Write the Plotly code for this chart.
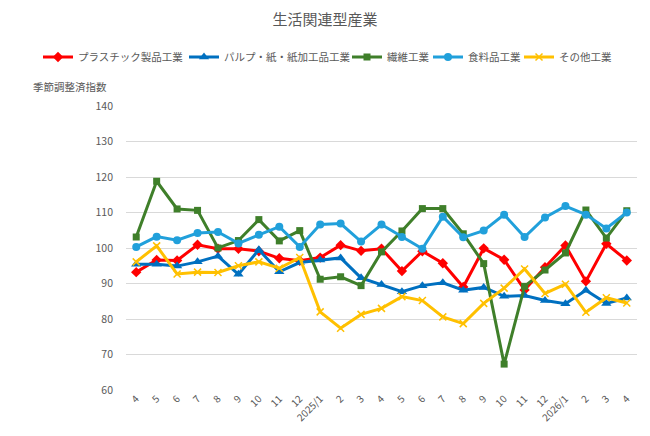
import plotly.graph_objects as go

categories = ["4", "5", "6", "7", "8", "9", "10", "11", "12", "2025/1", "2", "3", "4", "5", "6", "7", "8", "9", "10", "11", "12", "2026/1", "2", "3", "4"]

plastic = [93.2, 96.6, 96.5, 100.9, 99.8, 99.8, 99.1, 97.1, 96.4, 97.3, 100.8, 99.2, 99.8, 93.5, 99.1, 95.7, 89.0, 99.9, 96.7, 88.2, 94.6, 100.7, 90.6, 101.2, 96.5]
pulp = [95.4, 95.4, 94.9, 96.1, 97.7, 92.6, 99.5, 93.3, 95.9, 96.6, 97.2, 91.6, 89.7, 87.7, 89.4, 90.2, 88.1, 88.9, 86.4, 86.6, 85.2, 84.3, 88.1, 84.4, 85.9]
textile = [103.1, 118.8, 111.0, 110.6, 100.0, 102.1, 108.0, 102.0, 104.9, 91.2, 91.9, 89.4, 98.9, 104.8, 111.1, 111.1, 104.0, 95.6, 67.3, 89.2, 93.8, 98.6, 110.7, 102.8, 110.5]
food = [100.3, 103.2, 102.2, 104.2, 104.5, 101.3, 103.7, 106.0, 100.3, 106.6, 106.9, 101.8, 106.6, 103.1, 99.8, 108.8, 103.0, 104.9, 109.4, 103.1, 108.6, 111.8, 109.4, 105.5, 110.0]
other = [96.1, 100.6, 92.7, 93.2, 93.1, 95.0, 96.1, 94.3, 97.3, 82.0, 77.4, 81.3, 83.0, 86.3, 85.2, 80.6, 78.7, 84.4, 88.7, 94.1, 87.2, 89.8, 81.9, 86.0, 84.5]

series_names = ["プラスチック製品工業", "パルプ・紙・紙加工品工業", "繊維工業", "食料品工業", "その他工業"]
series_values = [plastic, pulp, textile, food, other]
colors = ["#FF0000", "#0070C0", "#3F7F2A", "#21A0DB", "#FFC000"]
symbols = ["diamond", "triangle-up", "square", "circle", "x-thin"]
sizes = [8, 9, 7, 8, 7]
legend_x_px = [38, 184, 347, 428, 519]

JP = "Noto Sans CJK JP"

fig = go.Figure()
x_idx = list(range(len(categories)))
legend_layouts = {}
for k, (name, vals, c, s, sz, lx) in enumerate(zip(series_names, series_values, colors, symbols, sizes, legend_x_px)):
    marker = dict(symbol=s, size=sz, color=c)
    if s == "x-thin":
        marker["line"] = dict(color=c, width=1.5)
    lname = "legend" if k == 0 else f"legend{k + 1}"
    fig.add_trace(go.Scatter(
        x=x_idx, y=vals, name=name, mode="lines+markers",
        line=dict(color=c, width=3), marker=marker, legend=lname,
    ))
    legend_layouts[lname] = dict(
        orientation="h", xref="container", x=lx / 650, xanchor="left",
        yref="container", y=1 - 57 / 436, yanchor="middle",
        font=dict(size=10.5, color="#595959", family=JP),
        itemwidth=30, bgcolor="rgba(0,0,0,0)",
    )

fig.update_layout(
    width=650, height=436,
    margin=dict(l=126, r=13, t=106, b=43),
    paper_bgcolor="white", plot_bgcolor="white",
    font=dict(family=JP, color="#595959", size=11),
    title=dict(text="生活関連型産業", x=0.5, xref="container", y=0.955, yanchor="middle",
               font=dict(size=15, color="#595959", family=JP)),
    showlegend=True,
    annotations=[dict(text="季節調整済指数", xref="paper", yref="paper",
                      x=-0.185, y=1.07, xanchor="left", yanchor="middle",
                      showarrow=False, font=dict(size=10.5, color="#595959", family=JP))],
    **legend_layouts,
)

fig.update_xaxes(
    tickmode="array", tickvals=x_idx, ticktext=categories,
    range=[-0.5, len(categories) - 0.5], tickangle=-45,
    showgrid=False, zeroline=False, showline=False, ticks="",
    tickfont=dict(size=10, color="#595959", family=JP),
)
fig.update_yaxes(
    range=[60, 140], dtick=10, showgrid=True, gridcolor="#D9D9D9", gridwidth=1,
    zeroline=False, showline=False, ticks="",
    tickfont=dict(size=10.5, color="#595959", family=JP), ticklabelstandoff=12,
)

fig.write_html("out.html")
